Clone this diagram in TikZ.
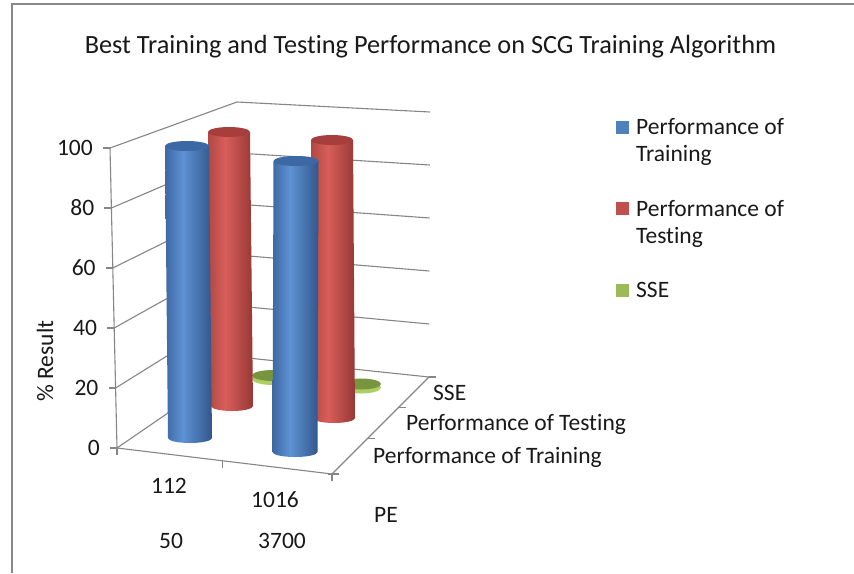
\documentclass[tikz,border=0pt]{standalone}
\usepackage{fontspec}
\setmainfont{Carlito}[Ligatures=NoCommon]
\usetikzlibrary{calc}

% chart palette
\definecolor{gridgray}{RGB}{134,134,134}
\definecolor{framegray}{RGB}{136,136,136}
\definecolor{txt}{RGB}{25,25,25}
\definecolor{bEdgeL}{RGB}{62,104,162}
\definecolor{bMid}{RGB}{94,146,212}
\definecolor{bEdgeR}{RGB}{50,86,138}
\definecolor{bTop}{RGB}{60,104,165}
\definecolor{rEdgeL}{RGB}{176,72,68}
\definecolor{rMid}{RGB}{216,94,90}
\definecolor{rEdgeR}{RGB}{150,56,53}
\definecolor{rTop}{RGB}{168,62,59}
\definecolor{gTop}{RGB}{120,148,62}
\definecolor{gRim}{RGB}{172,206,98}
\definecolor{legBlue}{RGB}{79,129,189}
\definecolor{legRed}{RGB}{192,80,77}
\definecolor{legGreen}{RGB}{155,187,89}

% left-to-right shading of a cylinder body
\pgfdeclarehorizontalshading{bluecyl}{100bp}{color(0bp)=(bEdgeL); color(25bp)=(bEdgeL); color(44bp)=(bMid); color(75bp)=(bEdgeR); color(100bp)=(bEdgeR)}
\pgfdeclarehorizontalshading{redcyl}{100bp}{color(0bp)=(rEdgeL); color(25bp)=(rEdgeL); color(44bp)=(rMid); color(75bp)=(rEdgeR); color(100bp)=(rEdgeR)}

% cylinder: top centre (#1,#2), bottom centre (#3,#4), radii #5/#6, body shading #7, top colour #8
\newcommand\drawcyl[8]{%
  \shade[shading=#7] (#1-#5,#2) -- (#3-#5,#4)
    arc[start angle=180,end angle=0,x radius=#5,y radius=#6]
    -- (#1+#5,#2) -- cycle;
  \fill[#8] (#1,#2) ellipse[x radius=#5,y radius=#6];
}

\begin{document}
\begin{tikzpicture}[x=1pt,y=-1pt,
  grid/.style={draw=gridgray,line width=1.1pt},
  lbl/.style={font=\fontsize{23.5}{28}\selectfont,text=txt,inner sep=0pt},
  ttl/.style={font=\fontsize{26.3}{30}\selectfont,text=txt,inner sep=0pt},
  legsq/.style={minimum size=13pt,inner sep=0pt}]
\useasboundingbox (0,0) rectangle (854,573);
\fill[white] (0,0) rectangle (854,573);

% chart area border
\draw[framegray,line width=2pt] (12,573) -- (12,4) -- (854,4);

% box corners
\coordinate (FLT) at (110,148);
\coordinate (FLB) at (117,448);
\coordinate (BLT) at (237,102);
\coordinate (BLB) at (248,358);
\coordinate (BRT) at (430,112);
\coordinate (BRB) at (429,377);
\coordinate (FRB) at (332,474);

% gridlines on back and side walls
\foreach \f in {0,0.2,0.4,0.6,0.8,1}{
  \draw[grid] ($(FLB)!\f!(FLT)$) -- ($(BLB)!\f!(BLT)$) -- ($(BRB)!\f!(BRT)$);
}

% axes
\draw[grid] (FLT) -- (FLB) -- (FRB) -- (BRB);

% value axis ticks and labels
\foreach \f/\v in {0/0,0.2/20,0.4/40,0.6/60,0.8/80,1/100}{
  \coordinate (yt\v) at ($(FLB)!\f!(FLT)$);
  \draw[grid] (yt\v) -- ++(-7,0);
  \node[lbl,anchor=base east] (yl\v) at ($(yt\v)+(-17,7.5)$) {\v};
}
\node[lbl,anchor=base,rotate=90] (ytitle) at (53,361) {\% Result};

% category axis ticks
\coordinate (xtm) at ($(FLB)!0.49!(FRB)$);
\draw[grid] (FLB) -- ++(0,7);
\draw[grid] (xtm) -- ++(0,7);
\draw[grid] (FRB) -- ++(0,7);
\node[lbl,anchor=base] (c112) at (169,493) {112};
\node[lbl,anchor=base] (c1016) at (275,507) {1016};
\node[lbl,anchor=base] (c50) at (171,548) {50};
\node[lbl,anchor=base] (c3700) at (282,548) {3700};

% series axis ticks and labels
\coordinate (zt1) at ($(FRB)!0.37!(BRB)$);
\coordinate (zt2) at ($(FRB)!0.69!(BRB)$);
\draw[grid] ($(FRB)+(-4,0)$) -- ++(11,0);
\draw[grid] (zt1) -- ++(7,0);
\draw[grid] (zt2) -- ++(7,0);
\draw[grid] (BRB) -- ++(7,0);
\node[lbl,anchor=base west] (sTrain) at (373,463) {Performance of Training};
\node[lbl,anchor=base west] (sTest) at (406,430) {Performance of Testing};
\node[lbl,anchor=base west] (sSSE) at (433,400) {SSE};
\node[lbl,anchor=base west] (sPE) at (374,522) {PE};

% SSE discs (back row)
\fill[gRim] (273,379) ellipse[x radius=21,y radius=6];
\fill[gTop] (273,375.5) ellipse[x radius=21,y radius=5.5];
\fill[gRim] (361,387.5) ellipse[x radius=20,y radius=6];
\fill[gTop] (361,384) ellipse[x radius=20,y radius=5.5];

% testing (middle row)
\drawcyl{229}{132}{232}{406}{21}{5}{redcyl}{rTop}
\drawcyl{332}{140}{334}{418}{21}{5}{redcyl}{rTop}

% training (front row)
\drawcyl{187}{146}{190}{438}{22}{5}{bluecyl}{bTop}
\drawcyl{296}{161}{295}{452}{22.5}{5}{bluecyl}{bTop}

% title
\node[ttl,anchor=base] (title) at (430.5,53) {Best Training and Testing Performance on SCG Training Algorithm};

% legend
\node[legsq,fill=legBlue,anchor=north west] (kTrain) at (616,121) {};
\node[lbl,anchor=base west] (lTrain1) at (636,134) {Performance of};
\node[lbl,anchor=base west] (lTrain2) at (636,161) {Training};
\node[legsq,fill=legRed,anchor=north west] (kTest) at (616,202) {};
\node[lbl,anchor=base west] (lTest1) at (636,216) {Performance of};
\node[lbl,anchor=base west] (lTest2) at (636,243) {Testing};
\node[legsq,fill=legGreen,anchor=north west] (kSSE) at (616,284) {};
\node[lbl,anchor=base west] (lSSE) at (636,297) {SSE};
\end{tikzpicture}
\end{document}
